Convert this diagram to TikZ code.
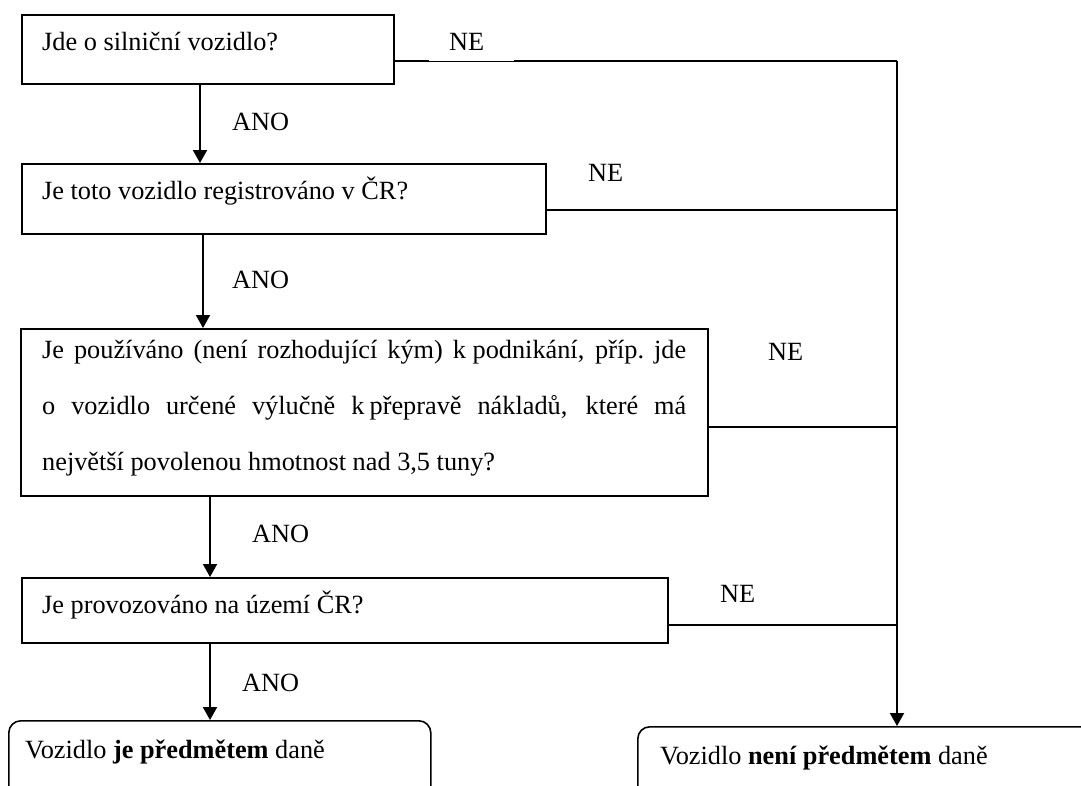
\documentclass[tikz,border=0pt]{standalone}
\usepackage{fontspec}
\setmainfont{Liberation Serif}
\usetikzlibrary{arrows.meta}
\begin{document}
\begin{tikzpicture}[x=1pt,y=-1pt,
  box/.style={draw, line width=1.6pt, anchor=north west, inner sep=0pt},
  endbox/.style={box, rounded corners=12pt},
  txt/.style={anchor=base west, inner sep=0pt, font=\fontsize{26.3}{30}\selectfont},
  lbl/.style={anchor=base west, inner sep=0pt, font=\fontsize{26.3}{30}\selectfont},
  arr/.style={line width=2pt, -{Triangle[length=13pt,width=14pt]}},
  con/.style={line width=1.6pt},
  vline/.style={line width=2pt}]
\useasboundingbox (0,0) rectangle (1081,785);
\clip (0,0) rectangle (1081,785);
\fill[white] (0,0) rectangle (1081,785);

% boxes
\node[box, minimum width=372pt, minimum height=69pt] (b1) at (21,14) {};
\node[box, minimum width=524pt, minimum height=70pt] (b2) at (21,163) {};
\node[box, minimum width=687pt, minimum height=167pt] (b3) at (20,328) {};
\node[box, minimum width=646pt, minimum height=65pt] (b4) at (21,577) {};
\node[endbox, minimum width=422pt, minimum height=110pt] (e1) at (8,720) {};
\node[endbox, minimum width=480pt, minimum height=110pt] (e2) at (637,726) {};

% texts
\node[txt] (t1) at (42,50) {Jde o silniční vozidlo?};
\node[txt] (t2) at (42,199) {Je toto vozidlo registrováno v ČR?};
\node[txt] (t3a) at (42,358) {\makebox[644pt][s]{Je používáno (není rozhodující kým) k\hspace{0.25em}podnikání, příp.\ jde}};
\node[txt] (t3b) at (42,414) {\makebox[644pt][s]{o vozidlo určené výlučně k\hspace{0.2em}přepravě nákladů, které má}};
\node[txt] (t3c) at (42,470) {největší povolenou hmotnost nad 3,5 tuny?};
\node[txt] (t4) at (42,613) {Je provozováno na území ČR?};
\node[txt] (te1) at (25,758) {Vozidlo \textbf{je předmětem} daně};
\node[txt] (te2) at (660,764) {Vozidlo \textbf{není předmětem} daně};

% labels
\node[lbl] (ne1) at (449,50) {NE};
\node[lbl] (ne2) at (588,181) {NE};
\node[lbl] (ne3) at (768,360) {NE};
\node[lbl] (ne4) at (720,602) {NE};
\node[lbl] (ano1) at (232,130) {ANO};
\node[lbl] (ano2) at (232,288) {ANO};
\node[lbl] (ano3) at (252,542) {ANO};
\node[lbl] (ano4) at (242,691) {ANO};

% right collector
\coordinate (r1) at (897,61);
\coordinate (r2) at (897,210);
\coordinate (r3) at (897,427);
\coordinate (r4) at (897,625);
\coordinate (g1) at (429,61);
\coordinate (g2) at (514,61);

\draw[con] (b1.east |- r1) -- (g1);
\draw[line width=0.8pt] ([yshift=-0.6pt]g1) -- ([yshift=-0.6pt]g2);
\draw[con] (g2) -- (r1);
\draw[con] (b2.east |- r2) -- (r2);
\draw[con] (b3.east |- r3) -- (r3);
\draw[con] (b4.east |- r4) -- (r4);
\draw[vline, arr] (r1) -- (r1 |- e2.north);

% ANO arrows
\draw[arr] (b1.south -| 200,0) -- (b2.north -| 200,0);
\draw[arr] (b2.south -| 203,0) -- (b3.north -| 203,0);
\draw[arr] (b3.south -| 210,0) -- (b4.north -| 210,0);
\draw[arr] (b4.south -| 210,0) -- (e1.north -| 210,0);
\end{tikzpicture}
\end{document}
